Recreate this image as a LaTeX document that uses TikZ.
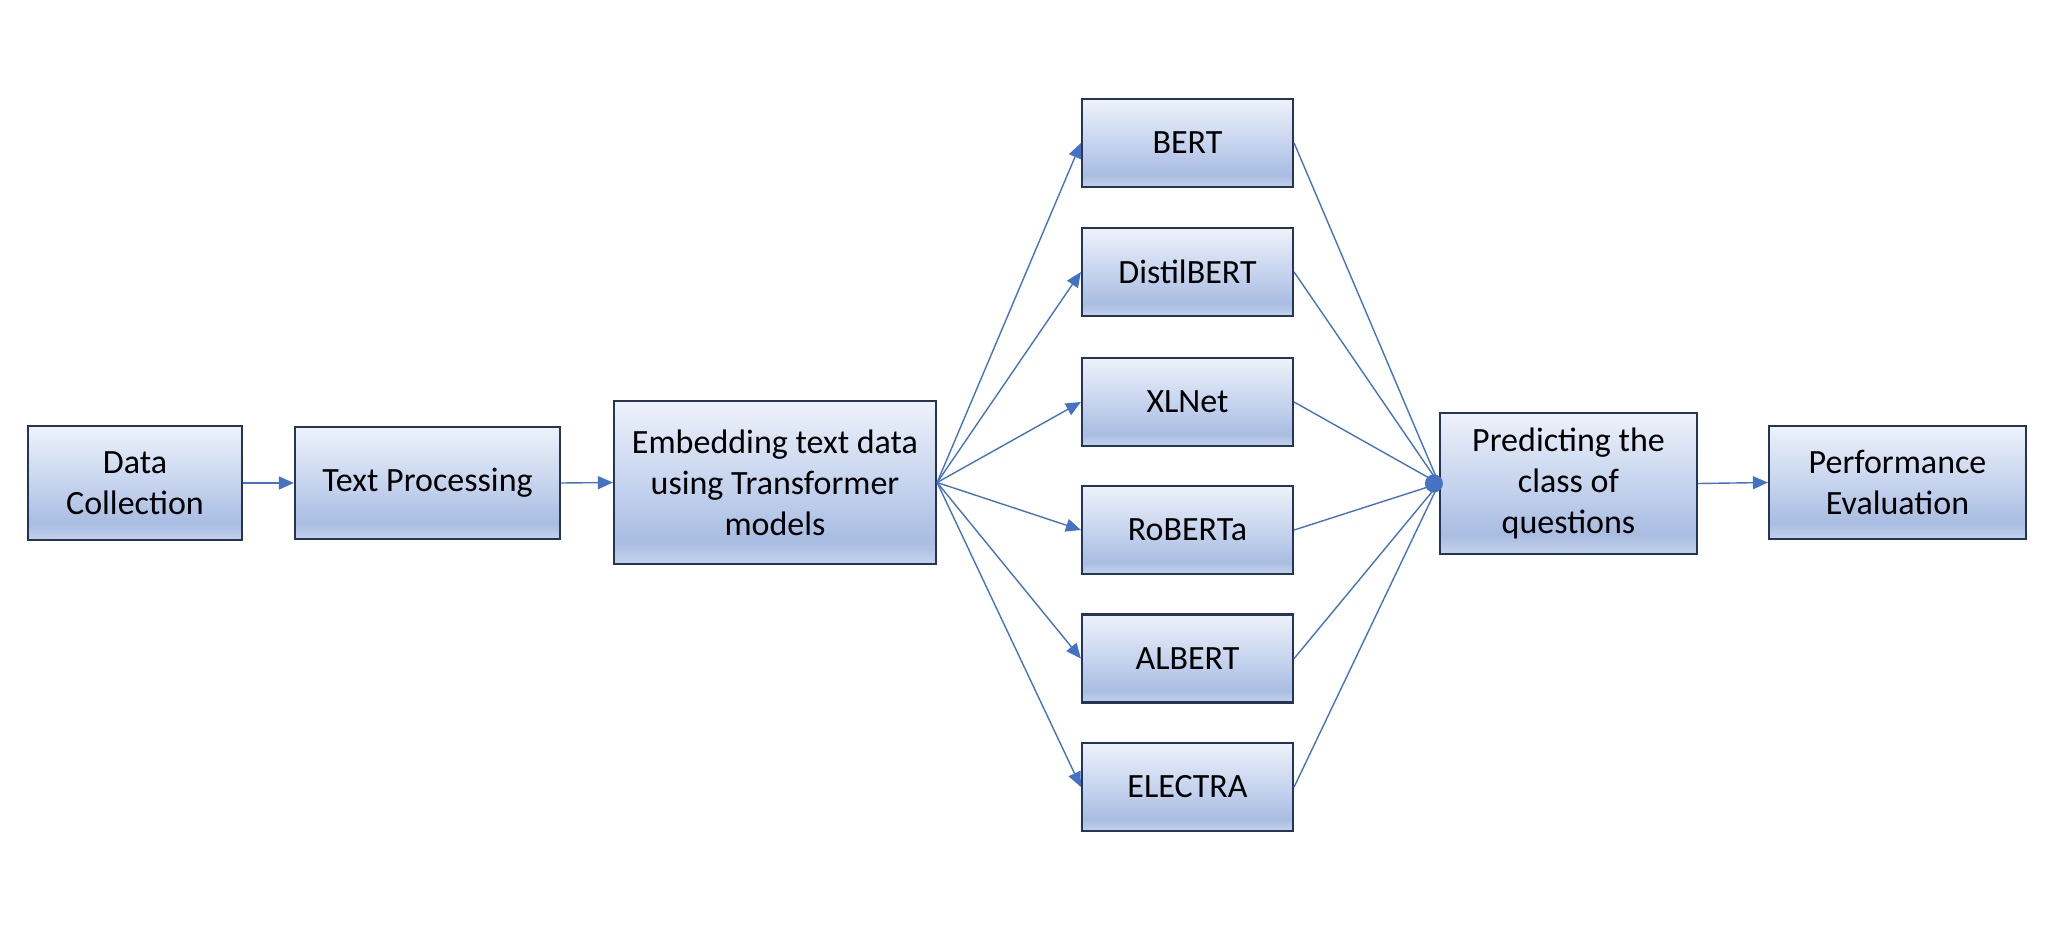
\documentclass[tikz,border=0pt]{standalone}
\usepackage{fontspec}
\setmainfont{Carlito}
\usetikzlibrary{arrows.meta}
\definecolor{lnblue}{HTML}{4472C4}
\definecolor{bxborder}{HTML}{25355A}
\definecolor{shtop}{HTML}{EEF2FA}
\definecolor{shmid}{HTML}{C6D4EE}
\definecolor{shdark}{HTML}{A9BDE2}
\definecolor{shbot}{HTML}{C4D2EC}
\pgfdeclareverticalshading{boxshade}{100bp}{color(0bp)=(shbot); color(25bp)=(shbot); color(32bp)=(shdark); color(50bp)=(shmid); color(75bp)=(shtop); color(100bp)=(shtop)}
\tikzset{
  box/.style={draw=bxborder, line width=1.1pt, shading=boxshade, rectangle, align=center,
    font=\fontsize{17}{20.5}\selectfont, text=black, inner sep=0pt},
  conn/.style={draw=lnblue, line width=0.7pt},
  arr/.style={conn, -{Triangle[length=7.5pt,width=6.5pt]}},
}
\begin{document}
\begin{tikzpicture}[x=0.5pt,y=-0.5pt]
\useasboundingbox (0,0) rectangle (2048,930);
\node[box, minimum width=107pt, minimum height=57pt] (dc) at (135,483) {Data\\Collection};
\node[box, minimum width=132.5pt, minimum height=56pt] (tp) at (427.5,483) {Text Processing};
\node[box, minimum width=161pt, minimum height=81.5pt] (emb) at (775,482.5) {Embedding text data\\using Transformer\\models};
\node[box, minimum width=105.5pt, minimum height=44pt] (bert) at (1187.5,143) {BERT};
\node[box, minimum width=105.5pt, minimum height=44pt] (distil) at (1187.5,272) {DistilBERT};
\node[box, minimum width=105.5pt, minimum height=44pt] (xlnet) at (1187.5,402) {XLNet};
\node[box, minimum width=105.5pt, minimum height=44pt] (roberta) at (1187.5,530) {RoBERTa};
\node[box, minimum width=105.5pt, minimum height=44pt] (albert) at (1187.5,658.5) {ALBERT};
\node[box, minimum width=105.5pt, minimum height=44pt] (electra) at (1187.5,787) {ELECTRA};
\node[box, minimum width=128.5pt, minimum height=70.5pt] (pred) at (1568.5,483.5) {Predicting the\\class of\\questions};
\node[box, minimum width=128.5pt, minimum height=56.5pt] (perf) at (1897.5,482.5) {Performance\\Evaluation};
\draw[arr] (dc.east) -- (tp.west);
\draw[arr] (tp.east) -- (emb.west);
\draw[arr] (pred.east) -- (perf.west);
\foreach \m in {bert,distil,xlnet,roberta,albert,electra}{
  \draw[arr] (emb.east) -- (\m.west);
  \draw[conn] (\m.east) -- (pred.west);
}
\coordinate (dot) at ([xshift=-2.5pt]pred.west);
\fill[lnblue] (dot) circle (4.5pt);
\end{tikzpicture}
\end{document}
